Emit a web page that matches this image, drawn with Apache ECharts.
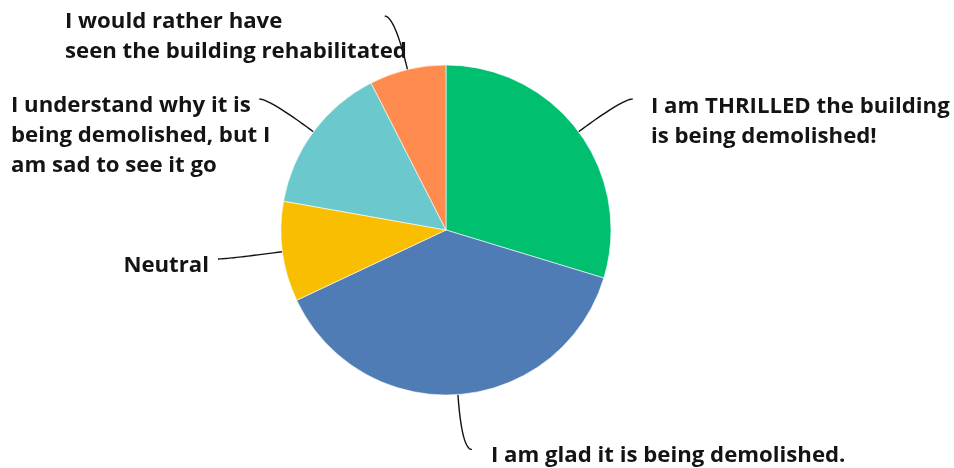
<!DOCTYPE html>
<html>
<head>
<meta charset="utf-8">
<script src="https://cdn.jsdelivr.net/npm/echarts@6/dist/echarts.min.js"></script>
<style>
  html, body { margin: 0; padding: 0; background: #fff; }
  #chart { width: 954px; height: 468px; }
</style>
</head>
<body>
<div id="chart"></div>
<script>
// answer labels, clockwise from 12 o'clock
const answers = [
    'I am THRILLED the building\nis being demolished!',
    'I am glad it is being demolished.',
    'Neutral',
    'I understand why it is\nbeing demolished, but I\nam sad to see it go',
    'I would rather have\nseen the building rehabilitated'
];
// share of responses (%)
const shares = [29.7, 38.3, 9.8, 14.7, 7.5];
const colors = ['#00bf6f', '#507cb5', '#f9be00', '#6bc8cd', '#ff8b4f'];

// label anchors (x, vertical middle of the block, align)
const labelPos = [
    { x: 651, y: 122, align: 'left' },
    { x: 491, y: 456, align: 'left' },
    { x: 209, y: 266, align: 'right' },
    { x: 11, y: 136, align: 'left' },
    { x: 65, y: 37, align: 'left' }
];
const lineLen1 = 55; // radial part of the leader
const lineLen2 = 10; // horizontal part

// fit the font so the longest right-hand line is as wide as in the picture
const fontFamily = '"Open Sans"';
const ctx = document.createElement('canvas').getContext('2d');
ctx.font = 'bold 20px ' + fontFamily;
const w20 = ctx.measureText('I am THRILLED the building').width;
const fontSize = Math.round(20 * 299 / w20 * 10) / 10;

// smooth leader: quadratic curve from the slice edge, bending to horizontal
function leader(p0, cx, cy) {
    const dx = p0[0] - cx, dy = p0[1] - cy;
    const len = Math.sqrt(dx * dx + dy * dy);
    const c = [p0[0] + dx / len * lineLen1, p0[1] + dy / len * lineLen1];
    const side = dx >= 0 ? 1 : -1;
    const p2 = [c[0] + side * lineLen2, c[1]];
    const pts = [];
    for (let k = 0; k <= 24; k++) {
        const t = k / 24, u = 1 - t;
        pts.push([
            u * u * p0[0] + 2 * u * t * c[0] + t * t * p2[0],
            u * u * p0[1] + 2 * u * t * c[1] + t * t * p2[1]
        ]);
    }
    return pts;
}

const center = [446, 230];
const chart = echarts.init(document.getElementById('chart'));
chart.setOption({
    animation: false,
    series: [{
        type: 'pie',
        center: center,
        radius: [0, 165],
        startAngle: 90,
        clockwise: true,
        avoidLabelOverlap: false,
        data: answers.map((a, i) => ({ name: a, value: shares[i], itemStyle: { color: colors[i] } })),
        itemStyle: { borderColor: '#fff', borderWidth: 0.6 },
        label: {
            show: true,
            formatter: '{b}',
            color: '#141414',
            fontFamily: fontFamily,
            fontWeight: 'bold',
            fontSize: fontSize,
            lineHeight: 30
        },
        labelLine: {
            show: true,
            smooth: false,
            length: lineLen1,
            length2: lineLen2,
            lineStyle: { color: '#111', width: 1.4 }
        },
        labelLayout: (params) => {
            const p = labelPos[params.dataIndex];
            const p0 = params.labelLinePoints[0];
            return {
                x: p.x, y: p.y, align: p.align, verticalAlign: 'middle',
                labelLinePoints: leader(p0, center[0], center[1])
            };
        }
    }]
});
</script>
</body>
</html>
